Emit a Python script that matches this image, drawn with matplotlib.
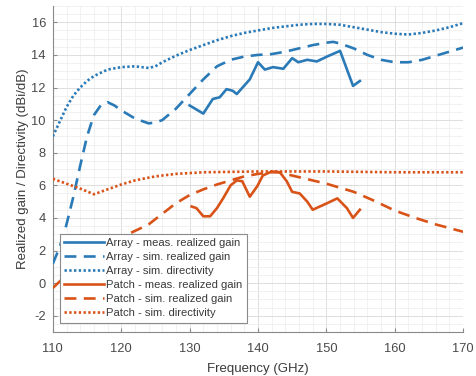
import matplotlib
matplotlib.use("Agg")
import matplotlib.pyplot as plt
from matplotlib.ticker import MultipleLocator

plt.rcParams['font.family'] = ['Liberation Sans', 'DejaVu Sans']
plt.rcParams['axes.unicode_minus'] = False

# ---- data ----
arr_dir_f = [110, 111, 112, 113, 114, 115, 116, 117, 118, 120, 122, 124, 125, 126, 128, 130, 132, 134, 136, 138,
             140, 142, 144, 146, 148, 150, 152, 154, 156, 158, 160, 162, 164, 166, 168, 170]
arr_dir = [9.0, 9.9, 10.8, 11.5, 12.0, 12.4, 12.7, 12.9, 13.1, 13.25, 13.3, 13.2, 13.3, 13.55, 13.95, 14.3, 14.6,
           14.9, 15.15, 15.35, 15.5, 15.65, 15.75, 15.85, 15.9, 15.9, 15.85, 15.7, 15.55, 15.4, 15.3, 15.25, 15.35,
           15.5, 15.7, 15.95]

arr_sim_f = [110, 111, 112, 113, 114, 115, 116, 117, 118, 119, 120, 122, 124, 125, 126, 128, 130, 132, 134, 136,
             138, 140, 142, 144, 146, 148, 150, 151, 152, 154, 156, 158, 160, 162, 164, 166, 168, 170]
arr_sim = [1.2, 2.2, 3.6, 5.3, 7.2, 9.0, 10.3, 10.9, 11.1, 10.9, 10.6, 10.1, 9.8, 9.85, 10.0, 10.7, 11.6, 12.5,
           13.3, 13.7, 13.9, 14.0, 14.05, 14.2, 14.4, 14.6, 14.75, 14.8, 14.7, 14.4, 14.0, 13.7, 13.55, 13.55, 13.7,
           13.95, 14.2, 14.45]

arr_meas_f = [130.0, 132.0, 133.4, 134.4, 135.4, 136.3, 136.9, 138.8, 140.0, 141.0, 142.2, 143.7, 145.0, 145.9,
              147.2, 148.6, 150.1, 152.0, 153.9, 154.9]
arr_meas = [10.9, 10.4, 11.3, 11.4, 11.9, 11.8, 11.6, 12.5, 13.55, 13.1, 13.25, 13.15, 13.8, 13.55, 13.7, 13.6,
            13.9, 14.25, 12.1, 12.4]

pat_dir_f = [110, 112, 114, 116, 118, 120, 122, 125, 128, 132, 140, 150, 160, 170]
pat_dir = [6.4, 6.1, 5.8, 5.45, 5.75, 6.05, 6.3, 6.55, 6.7, 6.8, 6.85, 6.85, 6.8, 6.8]

pat_sim_f = [110, 112, 114, 116, 118, 120, 122, 124, 126, 128, 130, 132, 134, 136, 138, 140, 142, 143, 145, 147,
             150, 152, 154, 157, 160, 163, 166, 170]
pat_sim = [-0.3, 0.5, 1.2, 1.8, 2.3, 2.8, 3.2, 3.6, 4.25, 4.9, 5.4, 5.75, 6.05, 6.3, 6.55, 6.7, 6.8, 6.8, 6.6,
           6.4, 6.1, 5.85, 5.6, 5.05, 4.45, 4.0, 3.6, 3.15]

pat_meas_f = [130.3, 131.0, 132.0, 133.0, 134.0, 134.9, 136.0, 136.9, 137.7, 138.8, 139.9, 140.7, 142.0, 143.2,
              144.2, 145.0, 146.1, 147.2, 148.0, 150.1, 151.6, 153.0, 153.9, 154.9]
pat_meas = [4.7, 4.6, 4.1, 4.1, 4.6, 5.2, 6.0, 6.3, 6.25, 5.3, 5.95, 6.6, 6.85, 6.8, 6.25, 5.6, 5.5, 5.0, 4.5,
            4.9, 5.2, 4.6, 4.0, 4.5]

blue = '#2a7ab8'
orange = '#d95319'

fig = plt.figure(figsize=(4.76, 3.76), dpi=100)
ax = fig.add_axes([0.111, 0.117, 0.862, 0.867])

lw = 1.9
dash = (0, (4.5, 2.8))
dot = (0, (0.9, 0.9))
ax.plot(arr_meas_f, arr_meas, color=blue, lw=lw, ls='-', label='Array - meas. realized gain', zorder=5)
ax.plot(arr_sim_f, arr_sim, color=blue, lw=lw, ls=dash, label='Array - sim. realized gain', zorder=4)
ax.plot(arr_dir_f, arr_dir, color=blue, lw=lw, ls=dot, label='Array - sim. directivity', zorder=4)
ax.plot(pat_meas_f, pat_meas, color=orange, lw=lw, ls='-', label='Patch - meas. realized gain', zorder=5)
ax.plot(pat_sim_f, pat_sim, color=orange, lw=lw, ls=dash, label='Patch - sim. realized gain', zorder=4)
ax.plot(pat_dir_f, pat_dir, color=orange, lw=lw, ls=dot, label='Patch - sim. directivity', zorder=4)

ax.set_xlim(110, 170)
ax.set_ylim(-3, 17)
ax.xaxis.set_major_locator(MultipleLocator(10))
ax.xaxis.set_minor_locator(MultipleLocator(2))
ax.yaxis.set_minor_locator(MultipleLocator(0.5))
ax.set_yticks(range(-2, 17, 2))
ax.grid(which='major', color='#dedede', lw=0.7)
ax.grid(which='minor', color='#efefef', lw=0.6)
ax.set_axisbelow(True)
for s in ['top', 'right']:
    ax.spines[s].set_visible(False)
for s in ['left', 'bottom']:
    ax.spines[s].set_color('#8a8a8a')
    ax.spines[s].set_linewidth(0.8)
ax.tick_params(which='both', direction='in', colors='#8a8a8a', labelcolor='#4a4a4a', labelsize=9.3)
ax.tick_params(which='minor', length=0)
ax.tick_params(which='major', length=3)
ax.tick_params(axis='x', which='major', pad=8)
ax.tick_params(axis='y', which='major', pad=5)

ax.set_xlabel('Frequency (GHz)', fontsize=9.5, color='#3a3a3a', labelpad=6)
ax.set_ylabel('Realized gain / Directivity (dBi/dB)', fontsize=9.5, color='#3a3a3a', labelpad=2)

leg = ax.legend(loc='lower left', bbox_to_anchor=(0.017, 0.028), fontsize=8.1, handlelength=3.5,
                handletextpad=0.25, labelspacing=0.36, borderpad=0.4, borderaxespad=0,
                fancybox=False, framealpha=1, edgecolor='#8a8a8a')
leg.get_frame().set_linewidth(0.8)
for t in leg.get_texts():
    t.set_color('#3a3a3a')

fig.savefig('out.png', dpi=100)
